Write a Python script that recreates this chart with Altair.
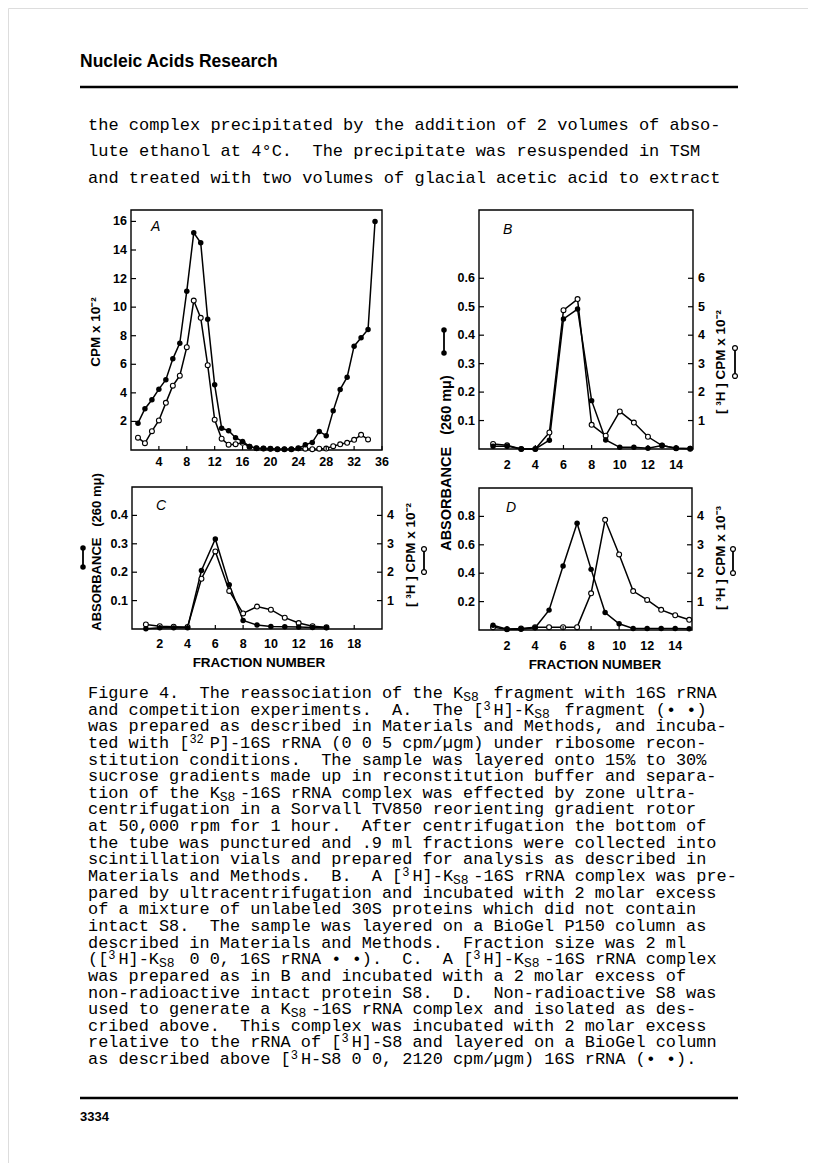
import altair as alt
import pandas as pd

# ---------------- data ----------------
# Panel A: sucrose gradient, CPM x 10^-2
a_frac_closed = list(range(1, 36))
a_cpm_closed = [1.88, 2.89, 3.52, 4.26, 4.92, 6.38, 7.48, 11.12, 15.2, 14.5, 9.16, 4.56,
                1.53, 1.35, 0.86, 0.6, 0.25, 0.12, 0.1, 0.08, 0.06, 0.06, 0.06, 0.1,
                0.37, 0.53, 1.3, 1.0, 2.74, 4.24, 5.1, 7.27, 7.85, 8.44, 16.0]
a_frac_open = list(range(1, 35))
a_cpm_open = [0.86, 0.48, 1.32, 2.07, 3.3, 4.5, 5.2, 7.2, 10.46, 9.25, 5.94, 2.12,
              0.79, 0.37, 0.41, 0.5, 0.23, 0.13, 0.11, 0.09, 0.06, 0.06, 0.06, 0.13,
              0.09, 0.06, 0.09, 0.1, 0.27, 0.4, 0.5, 0.71, 1.06, 0.74]

# Panel B: absorbance (closed) and [3H] CPM x 10^-2 (open)
b_frac = list(range(1, 16))
b_abs = [0.01, 0.01, 0.0, 0.0, 0.031, 0.457, 0.492, 0.17, 0.032, 0.006, 0.006, 0.003, 0.012, 0.003, 0.002]
b_cpm = [0.18, 0.13, 0.0, 0.0, 0.58, 4.88, 5.27, 0.85, 0.47, 1.32, 0.93, 0.43, 0.12, 0.03, 0.01]

# Panel C: absorbance (closed) and [3H] CPM x 10^-2 (open)
c_frac = list(range(1, 15))
c_abs = [0.001, 0.004, 0.004, 0.004, 0.206, 0.317, 0.156, 0.03, 0.014, 0.009, 0.008, 0.007, 0.005, 0.004]
c_cpm = [0.16, 0.1, 0.08, 0.07, 1.77, 2.73, 1.34, 0.55, 0.79, 0.68, 0.4, 0.21, 0.1, 0.06]

# Panel D: absorbance (closed) and [3H] CPM x 10^-3 (open)
d_frac = list(range(1, 16))
d_abs = [0.034, 0.006, 0.006, 0.016, 0.14, 0.45, 0.751, 0.427, 0.123, 0.044, 0.011, 0.011, 0.011, 0.011, 0.009]
d_cpm = [0.1, 0.03, 0.05, 0.1, 0.1, 0.1, 0.1, 1.29, 3.88, 2.66, 1.37, 1.06, 0.71, 0.52, 0.36]

# tick values / labels
a_xticks = [4, 8, 12, 16, 20, 24, 28, 32, 36]
a_xlabels = ["4", "8", "12", "16", "20", "24", "28", "32", "36"]
a_yticks = [2, 4, 6, 8, 10, 12, 14, 16]
a_ylabels = ["2", "4", "6", "8", "10", "12", "14", "16"]

b_xticks = [2, 4, 6, 8, 10, 12, 14]
b_xlabels = ["2", "4", "6", "8", "10", "12", "14"]
b_lticks = [0.1, 0.2, 0.3, 0.4, 0.5, 0.6]
b_llabels = ["0.1", "0.2", "0.3", "0.4", "0.5", "0.6"]
b_rticks = [1, 2, 3, 4, 5, 6]
b_rlabels = ["1", "2", "3", "4", "5", "6"]

c_xticks = [2, 4, 6, 8, 10, 12, 14, 16]
c_xlabels = ["2", "4", "6", "8", "10", "12", "16", "18"]
c_lticks = [0.1, 0.2, 0.3, 0.4]
c_llabels = ["0.1", "0.2", "0.3", "0.4"]
c_rticks = [1, 2, 3, 4]
c_rlabels = ["1", "2", "3", "4"]

d_xticks = [2, 4, 6, 8, 10, 12, 14]
d_xlabels = ["2", "4", "6", "8", "10", "12", "14"]
d_lticks = [0.2, 0.4, 0.6, 0.8]
d_llabels = ["0.2", "0.4", "0.6", "0.8"]
d_rticks = [1, 2, 3, 4]
d_rlabels = ["1", "2", "3", "4"]

header_text = "Nucleic Acids Research"
footer_text = "3334"
body_lines = [
    "the complex precipitated by the addition of 2 volumes of abso-",
    "lute ethanol at 4\u00b0C.  The precipitate was resuspended in TSM",
    "and treated with two volumes of glacial acetic acid to extract",
]
caption_lines = [
    "Figure 4.  The reassociation of the K{_S8} fragment with 16S rRNA",
    "and competition experiments.  A.  The [{^3}H]-K{_S8} fragment (\u2022 \u2022)",
    "was prepared as described in Materials and Methods, and incuba-",
    "ted with [{^32}P]-16S rRNA (0 0 5 cpm/\u00b5gm) under ribosome recon-",
    "stitution conditions.  The sample was layered onto 15% to 30%",
    "sucrose gradients made up in reconstitution buffer and separa-",
    "tion of the K{_S8}-16S rRNA complex was effected by zone ultra-",
    "centrifugation in a Sorvall TV850 reorienting gradient rotor",
    "at 50,000 rpm for 1 hour.  After centrifugation the bottom of",
    "the tube was punctured and .9 ml fractions were collected into",
    "scintillation vials and prepared for analysis as described in",
    "Materials and Methods.  B.  A [{^3}H]-K{_S8}-16S rRNA complex was pre-",
    "pared by ultracentrifugation and incubated with 2 molar excess",
    "of a mixture of unlabeled 30S proteins which did not contain",
    "intact S8.  The sample was layered on a BioGel P150 column as",
    "described in Materials and Methods.  Fraction size was 2 ml",
    "([{^3}H]-K{_S8} 0 0, 16S rRNA \u2022 \u2022).  C.  A [{^3}H]-K{_S8}-16S rRNA complex",
    "was prepared as in B and incubated with a 2 molar excess of",
    "non-radioactive intact protein S8.  D.  Non-radioactive S8 was",
    "used to generate a K{_S8}-16S rRNA complex and isolated as des-",
    "cribed above.  This complex was incubated with 2 molar excess",
    "relative to the rRNA of [{^3}H]-S8 and layered on a BioGel column",
    "as described above [{^3}H-S8 0 0, 2120 cpm/\u00b5gm) 16S rRNA (\u2022 \u2022).",
]

# ---------------- layout helpers ----------------
W, H = 800, 1155
M = 8  # page margin


def P(v):
    return v - M


SANS = "Liberation Sans"
MONO = "Liberation Mono"
NB = "\u00a0"
TICK_FS = 12.5

layers = []


def text_layer(rows, size, font=SANS, weight="normal", style="normal",
               align="left", baseline="middle", angle=0):
    df = pd.DataFrame(rows, columns=["x", "y", "t"])
    df["x"] = df["x"] - M
    df["y"] = df["y"] - M
    mk = dict(font=font, fontSize=size, fontWeight=weight, fontStyle=style,
              align=align, baseline=baseline, color="black")
    if angle:
        mk["angle"] = angle
    return alt.Chart(df).mark_text(**mk).encode(
        x=alt.X("x:Q", scale=None, axis=None),
        y=alt.Y("y:Q", scale=None, axis=None),
        text="t:N",
    )


def rule_layer(xa, xb, y, width):
    return alt.Chart(pd.DataFrame({"a": [0]})).mark_rule(color="black", strokeWidth=width).encode(
        x=alt.value(P(xa)), x2=alt.value(P(xb)), y=alt.value(P(y)))


def legend_symbol(x, ya, yb, open_):
    df = pd.DataFrame({"x": [P(x), P(x)], "y": [P(ya), P(yb)]})
    enc = dict(x=alt.X("x:Q", scale=None, axis=None), y=alt.Y("y:Q", scale=None, axis=None))
    out = [alt.Chart(df).mark_line(color="black", strokeWidth=1.8).encode(**enc)]
    if open_:
        out.append(alt.Chart(df).mark_point(shape="circle", filled=True, fill="white", stroke="black",
                                            strokeWidth=1.2, size=24, opacity=1).encode(**enc))
    else:
        out.append(alt.Chart(df).mark_point(shape="circle", filled=True, color="black",
                                            size=30, opacity=1).encode(**enc))
    return out


def panel(frame, xdom, ldom, rdom, closed, opened, xt, xl, lt, ll, rt, rl, xlab_y):
    x0, x1, y0, y1 = frame
    xs = alt.Scale(domain=xdom, range=[P(x0), P(x1)], nice=False, zero=False)
    ls = alt.Scale(domain=ldom, range=[P(y1), P(y0)], nice=False, zero=False)
    rs = alt.Scale(domain=rdom, range=[P(y1), P(y0)], nice=False, zero=False) if rdom else ls
    out = []
    fdf = pd.DataFrame({"x": [xdom[0]], "x2": [xdom[1]], "y": [ldom[0]], "y2": [ldom[1]]})
    out.append(alt.Chart(fdf).mark_rect(fill="white", fillOpacity=0, stroke="black", strokeWidth=1.4).encode(
        x=alt.X("x:Q", scale=xs, axis=None), x2="x2:Q",
        y=alt.Y("y:Q", scale=ls, axis=None), y2="y2:Q"))

    def enc(df_scale):
        return dict(x=alt.X("f:Q", scale=xs, axis=None), y=alt.Y("v:Q", scale=df_scale, axis=None))

    odf = pd.DataFrame({"f": opened[0], "v": opened[1]})
    cdf = pd.DataFrame({"f": closed[0], "v": closed[1]})
    out.append(alt.Chart(odf).mark_line(color="black", strokeWidth=1.5).encode(**enc(rs)))
    out.append(alt.Chart(cdf).mark_line(color="black", strokeWidth=1.5).encode(**enc(ls)))
    out.append(alt.Chart(odf).mark_point(shape="circle", filled=True, fill="white", stroke="black",
                                         strokeWidth=1.1, size=24, opacity=1).encode(**enc(rs)))
    out.append(alt.Chart(cdf).mark_point(shape="circle", filled=True, color="black",
                                         size=30, opacity=1).encode(**enc(ls)))

    # x ticks + labels
    tdf = pd.DataFrame({"v": xt, "t": xl})
    out.append(alt.Chart(tdf).mark_rule(color="black", strokeWidth=1.2).encode(
        x=alt.X("v:Q", scale=xs, axis=None), y=alt.value(P(y1)), y2=alt.value(P(y1) - 4)))
    out.append(alt.Chart(tdf).mark_text(font=SANS, fontSize=TICK_FS, fontWeight="bold", align="center",
                                        baseline="middle").encode(
        x=alt.X("v:Q", scale=xs, axis=None), y=alt.value(P(xlab_y)), text="t:N"))
    # left ticks + labels
    ldf = pd.DataFrame({"v": lt, "t": ll})
    out.append(alt.Chart(ldf).mark_rule(color="black", strokeWidth=1.2).encode(
        y=alt.Y("v:Q", scale=ls, axis=None), x=alt.value(P(x0)), x2=alt.value(P(x0) + 5)))
    out.append(alt.Chart(ldf).mark_text(font=SANS, fontSize=TICK_FS, fontWeight="bold", align="right",
                                        baseline="middle").encode(
        y=alt.Y("v:Q", scale=ls, axis=None), x=alt.value(P(x0) - 4), text="t:N"))
    if rt:
        rdf = pd.DataFrame({"v": rt, "t": rl})
        out.append(alt.Chart(rdf).mark_rule(color="black", strokeWidth=1.2).encode(
            y=alt.Y("v:Q", scale=rs, axis=None), x=alt.value(P(x1)), x2=alt.value(P(x1) - 5)))
        out.append(alt.Chart(rdf).mark_text(font=SANS, fontSize=TICK_FS, fontWeight="bold", align="left",
                                            baseline="middle").encode(
            y=alt.Y("v:Q", scale=rs, axis=None), x=alt.value(P(x1) + 5), text="t:N"))
    return out


# ---------------- panels ----------------
layers += panel((131, 382, 210, 450), [0, 36], [0, 16.8], None,
                (a_frac_closed, a_cpm_closed), (a_frac_open, a_cpm_open),
                a_xticks, a_xlabels, a_yticks, a_ylabels, None, None, 462)
layers += panel((479, 693, 210, 449), [0, 15.2], [0, 0.84], [0, 8.4],
                (b_frac, b_abs), (b_frac, b_cpm),
                b_xticks, b_xlabels, b_lticks, b_llabels, b_rticks, b_rlabels, 465)
layers += panel((132, 382, 487, 629), [0, 18], [0, 0.5], [0, 5],
                (c_frac, c_abs), (c_frac, c_cpm),
                c_xticks, c_xlabels, c_lticks, c_llabels, c_rticks, c_rlabels, 644)
layers += panel((479, 692, 488, 630), [0, 15.2], [0, 1.0], [0, 5],
                (d_frac, d_abs), (d_frac, d_cpm),
                d_xticks, d_xlabels, d_lticks, d_llabels, d_rticks, d_rlabels, 646)

# panel letters
layers.append(text_layer([(151, 227, "A"), (503, 230, "B"), (156, 506, "C"), (506, 508, "D")],
                         14, style="italic"))

# axis titles
absorb = "ABSORBANCE" + NB + NB + NB + "(260" + NB + "m\u03bc)"
layers.append(text_layer([(96, 332, "CPM" + NB + "x" + NB + "10\u207b\u00b2")], 13.5, weight="bold",
                         align="center", angle=270))
layers.append(text_layer([(447, 463, absorb)], 14.5, weight="bold", align="center", angle=270))
layers.append(text_layer([(97, 552, absorb)], 13, weight="bold", align="center", angle=270))
cpm3h2 = "[" + NB + "\u00b3H" + NB + "]" + NB + "CPM" + NB + "x" + NB + "10\u207b\u00b2"
cpm3h3 = "[" + NB + "\u00b3H" + NB + "]" + NB + "CPM" + NB + "x" + NB + "10\u207b\u00b3"
layers.append(text_layer([(721, 362, cpm3h2), (411, 555, cpm3h2), (721, 558, cpm3h3)], 13.5,
                         weight="bold", align="center", angle=270))
layers.append(text_layer([(259, 663, "FRACTION" + NB + "NUMBER"), (595, 665, "FRACTION" + NB + "NUMBER")],
                         13.5, weight="bold", align="center"))

# legend symbols
layers += legend_symbol(444, 330, 353, False)
layers += legend_symbol(83, 548, 567, False)
layers += legend_symbol(735, 348, 376, True)
layers += legend_symbol(424, 549, 572, True)
layers += legend_symbol(733, 549, 573, True)

# ---------------- page text ----------------
layers.append(text_layer([(80, 62, header_text)], 17.5, weight="bold"))
layers.append(rule_layer(80, 738, 87, 2.5))
layers.append(rule_layer(80, 738, 1098, 2.5))
layers.append(text_layer([(80, 1117, footer_text)], 13, weight="bold"))


def mono_rows(lines, x0, ytop, dy, size, sup_dy, sub_dy):
    """Split each typed line into runs placed by typewriter column.

    Runs never start with a space (leading spaces are skipped by moving the column);
    raised ({^..}) / lowered ({_..}) runs and characters outside Latin-1 get their own rows.
    """
    cw = 0.6 * size
    base_rows, special_rows, sup_rows, sub_rows = [], [], [], []
    for i, line in enumerate(lines):
        y = ytop + i * dy
        run, run_col = "", 0
        col, k = 0, 0
        while k < len(line):
            ch = line[k]
            if line.startswith("{^", k) or line.startswith("{_", k):
                if run.strip():
                    base_rows.append((x0 + run_col * cw, y, run.rstrip().replace(" ", NB)))
                run = ""
                kind = line[k + 1]
                j = line.index("}", k)
                s = line[k + 2:j]
                if kind == "^":
                    sup_rows.append((x0 + col * cw, y + sup_dy, s))
                else:
                    sub_rows.append((x0 + col * cw, y + sub_dy, s))
                col += len(s)
                k = j + 1
            elif ord(ch) > 255:
                if run.strip():
                    base_rows.append((x0 + run_col * cw, y, run.rstrip().replace(" ", NB)))
                run = ""
                special_rows.append((x0 + (col + 0.5) * cw, y, ch))
                col += 1
                k += 1
            else:
                if not run and ch == " ":
                    col += 1
                    k += 1
                    continue
                if not run:
                    run_col = col
                run += ch
                col += 1
                k += 1
        if run.strip():
            base_rows.append((x0 + run_col * cw, y, run.rstrip().replace(" ", NB)))
    return base_rows, special_rows, sup_rows, sub_rows


b_rows, b_spec, b_sup, b_sub = mono_rows(body_lines, 88, 125, 26.3, 17, -5, 5)
layers.append(text_layer(b_rows, 17, font=MONO))

c_rows, c_spec, c_sup, c_sub = mono_rows(caption_lines, 88, 693, 16.64, 16.9, -4, 4)
layers.append(text_layer(c_rows, 16.9, font=MONO))
layers.append(text_layer(c_spec, 16.9, font=MONO, align="center"))
layers.append(text_layer(c_sup, 12, font=MONO))
layers.append(text_layer(c_sub, 13, font=MONO))

chart = alt.layer(*layers).resolve_scale(x="independent", y="independent").properties(
    width=W, height=H, autosize=alt.AutoSizeParams(type="none"), padding=0
).configure_view(stroke="transparent").configure(background="white")

chart.save("out.html", embed_options={"renderer": "svg", "actions": False})
